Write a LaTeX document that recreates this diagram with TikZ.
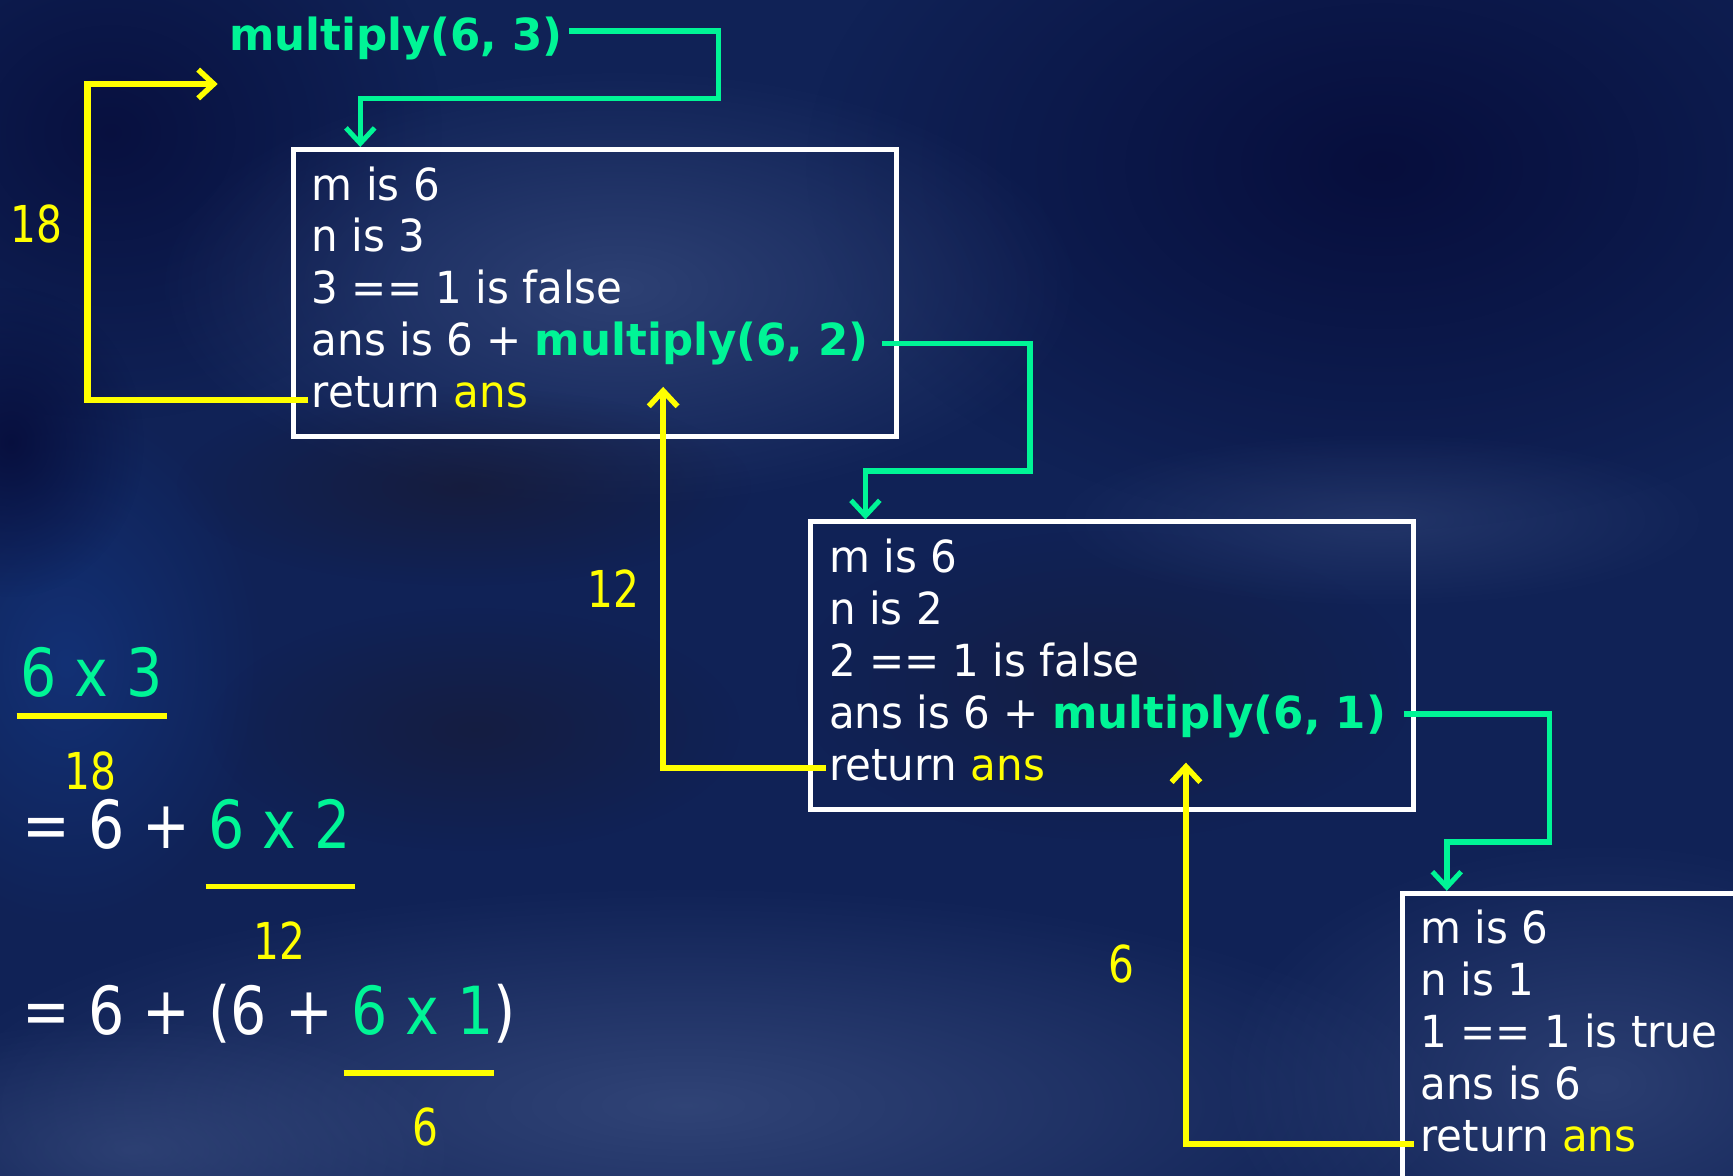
\documentclass[tikz,border=0pt]{standalone}
\usepackage{fontspec}
\setmainfont[FakeStretch=0.95, BoldFeatures={FakeStretch=0.985}]{DejaVu Sans}
\newfontfamily\eqfont[FakeStretch=0.86]{DejaVu Sans}
\newfontfamily\numfont[FakeStretch=0.80]{DejaVu Sans}
\usetikzlibrary{arrows.meta,fadings,calc}

\definecolor{callgreen}{RGB}{0,245,150}
\definecolor{retyellow}{RGB}{255,255,0}
\definecolor{bgbase}{RGB}{16,34,86}
\definecolor{bgdeep}{RGB}{6,12,58}
\definecolor{bgmist}{RGB}{70,90,140}
\definecolor{bgshade}{RGB}{24,26,52}
\definecolor{bgblue}{RGB}{20,55,130}

\tikzfading[name=softblob, inner color=transparent!0, outer color=transparent!100]

\begin{document}
\begin{tikzpicture}[x=1pt,y=1pt,
  frame/.style={draw=white, line width=4.5pt, minimum width=546pt,
    minimum height=260pt, anchor=north west, inner sep=0pt},
  codeline/.style={anchor=base west, inner sep=0pt, text=white,
    font=\fontsize{40}{47}\selectfont},
  eqline/.style={anchor=base west, inner sep=0pt, text=white,
    font=\eqfont\fontsize{60}{70}\selectfont},
  result/.style={inner sep=0pt, text=retyellow,
    font=\numfont\fontsize{46}{50}\selectfont},
  calllink/.style={draw=callgreen, line width=5pt, line join=miter,
    -{Straight Barb[length=14pt,width=26pt,line width=4.5pt]}},
  retlink/.style={draw=retyellow, line width=6pt, line join=miter,
    -{Straight Barb[length=14pt,width=26pt,line width=5pt]}},
  rule/.style={draw=retyellow, line width=5pt},
  haze/.style={path fading=softblob}
]
\useasboundingbox (0,0) rectangle (1568,-1064);
\begin{scope}
\clip (0,0) rectangle (1568,-1064);

% --- blurred blue backdrop ---
\fill[bgbase] (0,0) rectangle (1568,-1064);
\fill[bgdeep, haze, opacity=0.9] (1250,-150) ellipse (520 and 330);
\fill[bgdeep, haze, opacity=0.8] (100,-120) ellipse (300 and 260);
\fill[bgmist, haze, opacity=0.55] (560,-260) ellipse (420 and 200);
\fill[bgmist, haze, opacity=0.6] (620,-1000) ellipse (700 and 200);
\fill[bgmist, haze, opacity=0.5] (1450,-980) ellipse (350 and 220);
\fill[bgmist, haze, opacity=0.45] (120,-1040) ellipse (300 and 120);
\fill[bgblue, haze, opacity=0.7] (60,-600) ellipse (180 and 240);
\fill[bgdeep, haze, opacity=0.85] (10,-400) ellipse (120 and 140);
\fill[bgshade, haze, opacity=0.7] (420,-440) ellipse (260 and 90);
\fill[bgshade, haze, opacity=0.6] (430,-660) ellipse (240 and 110);
\fill[bgshade, haze, opacity=0.5] (1000,-620) ellipse (280 and 140);
\fill[bgmist, haze, opacity=0.35] (1250,-470) ellipse (300 and 80);

% --- call frames ---
\node[frame] (box1) at (263,-133) {};
\node[frame] (box2) at (731,-470) {};
\node[frame, minimum width=400pt, minimum height=300pt] (box3) at (1267,-806) {};

% --- initial call ---
\node[anchor=base west, inner sep=0pt, text=callgreen,
  font=\fontsize{40}{47}\selectfont\bfseries] (call1) at (207,-46) {multiply(6, 3)};
\coordinate (back1) at (197,-76);

% --- first frame ---
\node[codeline] (a1) at (282,-181) {m is 6};
\node[codeline] (a2) at (282,-228) {n is 3};
\node[codeline] (a3) at (282,-275) {3 == 1 is false};
\node[codeline] (call2) at (282,-322) {ans is 6 + \textcolor{callgreen}{\bfseries multiply(6, 2)}};
\node[codeline] (ret1) at (282,-369) {return \textcolor{retyellow}{ans}};

% --- second frame ---
\node[codeline] (b1) at (750,-518) {m is 6};
\node[codeline] (b2) at (750,-565) {n is 2};
\node[codeline] (b3) at (750,-612) {2 == 1 is false};
\node[codeline] (call3) at (750,-659) {ans is 6 + \textcolor{callgreen}{\bfseries multiply(6, 1)}};
\node[codeline] (ret2) at (750,-706) {return \textcolor{retyellow}{ans}};

% --- third frame ---
\node[codeline] (c1) at (1285,-854) {m is 6};
\node[codeline] (c2) at (1285,-901) {n is 1};
\node[codeline] (c3) at (1285,-948) {1 == 1 is true};
\node[codeline] (c4) at (1285,-995) {ans is 6};
\node[codeline] (ret3) at (1285,-1042) {return \textcolor{retyellow}{ans}};

% --- calls going down ---
\draw[calllink] ($(call1.base east)+(6,18)$) -- (650,-28) -- (650,-89)
  -- (326,-89) -- ([xshift=63pt]box1.north west);
\draw[calllink] ($(call2.base east)+(12,11)$) -- (932,-311) -- (932,-426)
  -- (783,-426) -- ([xshift=52pt]box2.north west);
\draw[calllink] ($(call3.base east)+(16,13)$) -- (1402,-646) -- (1402,-762)
  -- (1309,-762) -- ([xshift=42pt]box3.north west);

% --- values coming back ---
\coordinate (up1) at (600,-350);
\coordinate (up2) at (1073,-690);
\draw[retlink] ($(ret1.base west)+(-3,7)$) -- (79,-362) -- (79,-76) -- (back1);
\draw[retlink] ($(ret2.base west)+(-3,11)$) -- (600,-695) -- (up1);
\draw[retlink] ($(ret3.base west)+(-6,7)$) -- (1073,-1035) -- (up2);

\node[result] (v18) at (33,-203) {18};
\node[result] (v12) at (555,-533) {12};
\node[result] (v6) at (1015,-872) {6};

% --- the sum worked out ---
\node[eqline, text=callgreen] (e1) at (18,-630) {6 x 3};
\draw[rule] (15,-648) -- (151,-648);
\node[result, anchor=base west] (s18) at (58,-714) {18};
\node[eqline] (e2) at (20,-768) {= 6 + \textcolor{callgreen}{6 x 2}};
\draw[rule] (186,-802) -- (321,-802);
\node[result, anchor=base west] (s12) at (229,-868) {12};
\node[eqline] (e3) at (20,-936) {= 6 + (6 + \textcolor{callgreen}{6 x 1})};
\draw[rule] (311,-971) -- (447,-971);
\node[result, anchor=base west] (s6) at (373,-1036) {6};
\end{scope}
\end{tikzpicture}
\end{document}
